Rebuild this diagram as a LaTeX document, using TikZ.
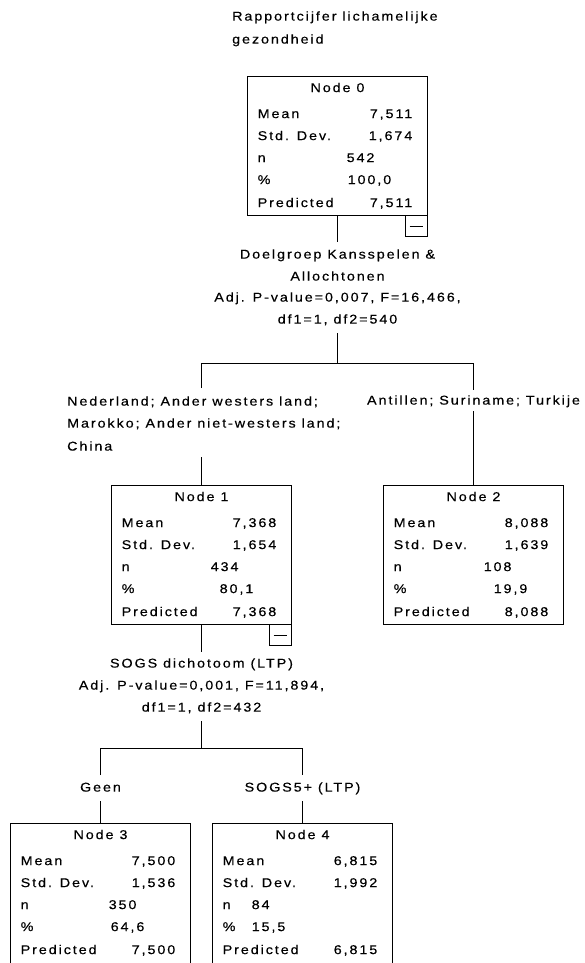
\documentclass[tikz,border=0pt]{standalone}
\usepackage{fontspec}
\setmainfont{Liberation Sans}[LetterSpace=15,FakeStretch=1.12,FakeBold=0.3]
\def\basoff{4.6}
\def\nxoff{99}
\def\pxoff{100}
\def\boxh{139}
\tikzset{
  box/.style={draw, line width=1pt, minimum width=180pt, minimum height=\boxh pt, anchor=north west, inner sep=0pt, outer sep=0pt},
  lbl/.style={anchor=base west, inner sep=0pt},
  val/.style={anchor=base east, inner sep=0pt},
  ctr/.style={anchor=base, inner sep=0pt},
  conn/.style={line width=1pt},
  minusbox/.style={draw, line width=1pt, minimum width=22pt, minimum height=21pt, anchor=north east, inner sep=0pt, outer sep=0pt}
}
\newcommand\statbox[8]{%
  \node[box] (#1box) at (#2,#3) {};
  \node[ctr] (#1title) at ({#2+90},{#3+11+\basoff}) {Node #4};
  \node[lbl] (#1lm) at ({#2+10},{#3+37+\basoff}) {Mean};
  \node[val] (#1vm) at ({#2+165},{#3+37+\basoff}) {#5};
  \node[lbl] (#1ls) at ({#2+10},{#3+59+\basoff}) {Std. Dev.};
  \node[val] (#1vs) at ({#2+165},{#3+59+\basoff}) {#6};
  \node[lbl] (#1ln) at ({#2+10},{#3+81+\basoff}) {n};
  \node[lbl] (#1vn) at ({#2+\nxoff},{#3+81+\basoff}) {#7};
  \node[lbl] (#1lp) at ({#2+10},{#3+103+\basoff}) {\%};
  \node[lbl] (#1vp) at ({#2+\pxoff},{#3+103+\basoff}) {#8};
  \node[lbl] (#1lr) at ({#2+10},{#3+126+\basoff}) {Predicted};
  \node[val] (#1vr) at ({#2+165},{#3+126+\basoff}) {#5};
}
\begin{document}
\begin{tikzpicture}[x=1pt,y=-1pt,font=\fontsize{12.8}{22}\selectfont]
\useasboundingbox[fill=white] (0,0) rectangle (585,963);

% title
\node[lbl] (t1) at (232,{16+\basoff}) {Rapportcijfer lichamelijke};
\node[lbl] (t2) at (232,{39+\basoff}) {gezondheid};

% nodes
\def\nxoff{99}\def\pxoff{100}
\statbox{n0}{247.5}{76.5}{0}{7,511}{1,674}{542}{100,0}
\def\nxoff{99}\def\pxoff{108}
\statbox{n1}{111.5}{485.5}{1}{7,368}{1,654}{434}{80,1}
\def\nxoff{100}\def\pxoff{110}
\statbox{n2}{383.5}{485.5}{2}{8,088}{1,639}{108}{19,9}
\def\boxh{144}
\def\nxoff{98}\def\pxoff{100}
\statbox{n3}{10.5}{823.5}{3}{7,500}{1,536}{350}{64,6}
\def\nxoff{39}\def\pxoff{39}
\statbox{n4}{212.5}{823.5}{4}{6,815}{1,992}{84}{15,5}

% collapse boxes
\node[minusbox] (m0) at (n0box.south east) {};
\draw[conn] ([xshift=4pt]m0.west) -- ([xshift=-5pt]m0.east);
\node[minusbox] (m1) at (n1box.south east) {};
\draw[conn] ([xshift=4pt]m1.west) -- ([xshift=-5pt]m1.east);

% first split
\node[ctr] (s0a) at (n0box.south |- 0,{254+\basoff}) {Doelgroep Kansspelen \&};
\node[ctr] (s0b) at (n0box.south |- 0,{276+\basoff}) {Allochtonen};
\node[ctr] (s0c) at (n0box.south |- 0,{297+\basoff}) {Adj. P-value=0,007, F=16,466,};
\node[ctr] (s0d) at (n0box.south |- 0,{319+\basoff}) {df1=1, df2=540};
\coordinate (a0) at (n0box.south |- 0,242);
\coordinate (b0) at (n0box.south |- 0,333);
\coordinate (j0) at (n0box.south |- 0,363.5);
\draw[conn] (n0box.south) -- (a0);
\draw[conn] (b0) -- (j0);

\node[lbl] (b1a) at (67,{401+\basoff}) {Nederland; Ander westers land;};
\node[lbl] (b1b) at (67,{423+\basoff}) {Marokko; Ander niet-westers land;};
\node[lbl] (b1c) at (67,{446+\basoff}) {China};
\node[ctr] (b2a) at (n2box.north |- 0,{400+\basoff}) {Antillen; Suriname; Turkije};
\coordinate (l1top) at (n1box.north |- 0,388);
\coordinate (l1bot) at (n1box.north |- 0,457);
\coordinate (r1top) at (n2box.north |- 0,390);
\coordinate (r1bot) at (n2box.north |- 0,411);
\draw[conn] (l1top) |- (j0) -| (r1top);
\draw[conn] (l1bot) -- (n1box.north);
\draw[conn] (r1bot) -- (n2box.north);

% second split
\node[ctr] (s1a) at (n1box.south |- 0,{663+\basoff}) {SOGS dichotoom (LTP)};
\node[ctr] (s1b) at (n1box.south |- 0,{685+\basoff}) {Adj. P-value=0,001, F=11,894,};
\node[ctr] (s1c) at (n1box.south |- 0,{707+\basoff}) {df1=1, df2=432};
\coordinate (a1) at (n1box.south |- 0,652);
\coordinate (b1) at (n1box.south |- 0,721);
\coordinate (j1) at (n1box.south |- 0,748.5);
\draw[conn] (n1box.south) -- (a1);
\draw[conn] (b1) -- (j1);

\node[ctr] (g3) at (n3box.north |- 0,{787+\basoff}) {Geen};
\node[ctr] (g4) at (n4box.north |- 0,{787+\basoff}) {SOGS5+ (LTP)};
\coordinate (l3top) at (n3box.north |- 0,775);
\coordinate (l3bot) at (n3box.north |- 0,801);
\coordinate (r3top) at (n4box.north |- 0,775);
\coordinate (r3bot) at (n4box.north |- 0,801);
\draw[conn] (l3top) |- (j1) -| (r3top);
\draw[conn] (l3bot) -- (n3box.north);
\draw[conn] (r3bot) -- (n4box.north);
\end{tikzpicture}
\end{document}
